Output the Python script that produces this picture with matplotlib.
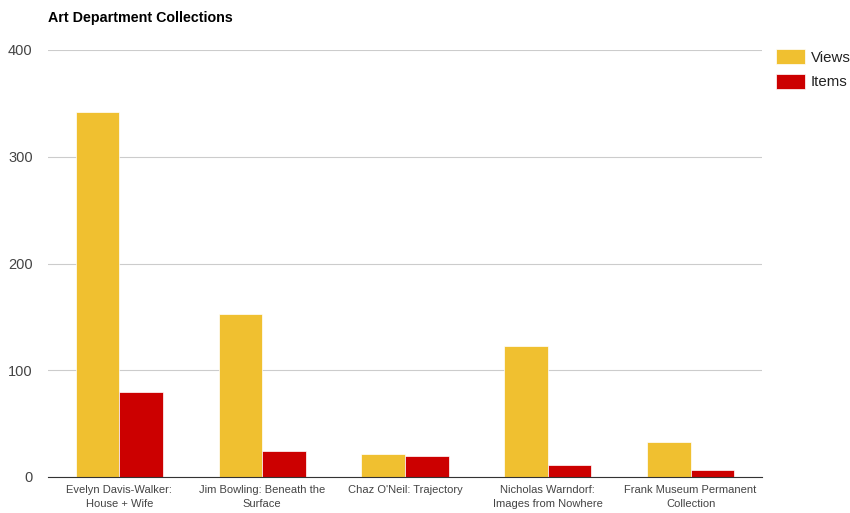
import matplotlib.pyplot as plt
import numpy as np

categories = ["Evelyn Davis-Walker:\nHouse + Wife", "Jim Bowling: Beneath the\nSurface",
              "Chaz O'Neil: Trajectory", "Nicholas Warndorf:\nImages from Nowhere",
              "Frank Museum Permanent\nCollection"]
views = [342, 153, 22, 123, 33]
items = [80, 24, 20, 11, 7]

plt.rcParams['font.family'] = ['Arial', 'Liberation Sans', 'DejaVu Sans']

fig = plt.figure(figsize=(8.5, 5.13), dpi=100)
ax = fig.add_axes([48/850, 36/513, 714/850, 427/513])

x = np.arange(len(categories))
w = 0.305
ax.bar(x - w/2, views, w, color='#F0C030', label='Views', edgecolor='white', linewidth=0.5, zorder=3)
ax.bar(x + w/2, items, w, color='#CC0000', label='Items', edgecolor='white', linewidth=0.5, zorder=3)

ax.set_xlim(-0.5, len(categories) - 0.5)
ax.set_ylim(0, 400)
ax.set_yticks([0, 100, 200, 300, 400])
ax.set_xticks(x)
ax.set_xticklabels(categories, fontsize=8, color='#444444', linespacing=1.5)
ax.tick_params(axis='y', labelsize=10.5, labelcolor='#444444', length=0, pad=11)
ax.tick_params(axis='x', length=0, pad=6)
ax.grid(axis='y', color='#CCCCCC', linewidth=0.8, zorder=0)
for s in ['top', 'right', 'left']:
    ax.spines[s].set_visible(False)
ax.spines['bottom'].set_color('#333333')
ax.spines['bottom'].set_zorder(4)

fig.text(48/850, 1 - 18/513, 'Art Department Collections', fontsize=10.3, fontweight='bold',
         va='center', ha='left', color='#000000')

fig.legend(loc='upper left', bbox_to_anchor=(776/850, 1 - 49/513), frameon=False, fontsize=10.8,
           borderpad=0, borderaxespad=0, handlelength=1.9, handleheight=1.15,
           handletextpad=0.4, labelspacing=0.62, labelcolor='#222222')

fig.savefig('out.png', dpi=100)
